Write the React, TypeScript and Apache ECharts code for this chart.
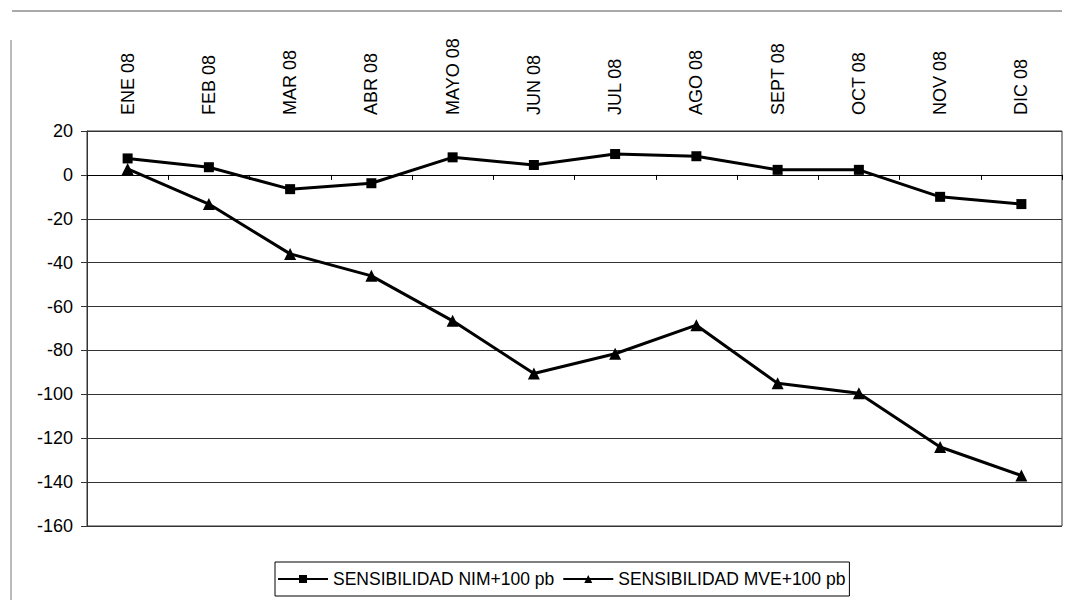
import React, { useEffect, useRef } from "react";
import * as echarts from "echarts";

const categories = ["ENE 08", "FEB 08", "MAR 08", "ABR 08", "MAYO 08", "JUN 08", "JUL 08", "AGO 08", "SEPT 08", "OCT 08", "NOV 08", "DIC 08"];
const nimValues = [7.5, 3.5, -6.5, -3.8, 8, 4.5, 9.5, 8.5, 2.3, 2.3, -10, -13.3];
const mveValues = [2.7, -13.3, -36, -46, -66.5, -90.5, -81.5, -68.5, -95, -99.5, -124, -137];
const seriesNames = ["SENSIBILIDAD NIM+100 pb", "SENSIBILIDAD MVE+100 pb"];

const FONT = "Liberation Sans, Arial, sans-serif";

export default function App() {
  const ref = useRef<HTMLDivElement>(null);
  useEffect(() => {
    if (!ref.current) return;
    const chart = echarts.init(ref.current, undefined, { renderer: "svg" });
    chart.setOption({
      animation: false,
      backgroundColor: "#ffffff",
      grid: { left: 87, right: 4, top: 131, bottom: 76, show: true, borderColor: "#333", borderWidth: 1, backgroundColor: "transparent" },
      xAxis: [
        {
          type: "category",
          data: categories,
          position: "top",
          boundaryGap: true,
          axisLine: { show: false },
          axisTick: { show: false },
          axisLabel: { rotate: 90, margin: 16, fontSize: 18, color: "#000", fontFamily: FONT },
          splitLine: { show: false },
        },
        {
          type: "category",
          data: categories,
          position: "bottom",
          boundaryGap: true,
          axisLine: { show: true, onZero: true, onZeroAxisIndex: 0, lineStyle: { color: "#000", width: 1 } },
          axisTick: { show: true, length: 5, inside: false, lineStyle: { color: "#000" } },
          axisLabel: { show: false },
          splitLine: { show: false },
        },
      ],
      yAxis: {
        type: "value",
        min: -160,
        max: 20,
        interval: 20,
        axisLine: { show: true, onZero: false, lineStyle: { color: "#333", width: 1 } },
        axisTick: { show: true, length: 6, lineStyle: { color: "#333" } },
        axisLabel: { fontSize: 18, color: "#000", fontFamily: FONT, margin: 14 },
        splitLine: { show: true, lineStyle: { color: "#333", width: 1 } },
      },
      legend: {
        data: seriesNames,
        left: 275,
        top: 562,
        orient: "horizontal",
        borderColor: "#000",
        borderWidth: 1,
        borderRadius: 0,
        padding: [8, 4, 8, 2],
        itemGap: 8,
        itemWidth: 50,
        itemHeight: 10,
        textStyle: { fontSize: 17.5, color: "#000", fontFamily: FONT },
      },
      graphic: [
        { type: "line", shape: { x1: 12, y1: 11, x2: 1062, y2: 11 }, style: { stroke: "#555", lineWidth: 1 } },
        { type: "line", shape: { x1: 11, y1: 40, x2: 11, y2: 600 }, style: { stroke: "#777", lineWidth: 1 } },
      ],
      series: [
        {
          name: seriesNames[0],
          type: "line",
          xAxisIndex: 0,
          data: nimValues,
          symbol: "rect",
          symbolSize: 10,
          lineStyle: { color: "#000", width: 3 },
          itemStyle: { color: "#000" },
        },
        {
          name: seriesNames[1],
          type: "line",
          xAxisIndex: 0,
          data: mveValues,
          symbol: "triangle",
          symbolSize: 12,
          lineStyle: { color: "#000", width: 3 },
          itemStyle: { color: "#000" },
        },
      ],
    });
    return () => chart.dispose();
  }, []);
  return <div ref={ref} style={{ position: "fixed", left: 0, top: 0, width: 1066, height: 602 }} />;
}
